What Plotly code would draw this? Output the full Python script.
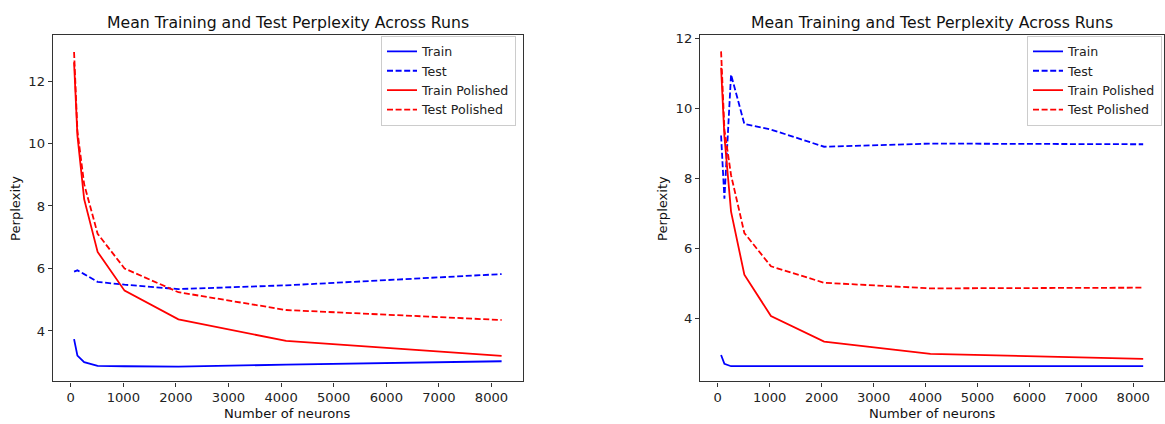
import plotly.graph_objects as go

# Data
neurons = [64, 128, 256, 512, 1024, 2048, 4096, 8192]

# Left panel
left_train = [3.74, 3.21, 3.00, 2.88, 2.87, 2.86, 2.92, 3.03]
left_test = [5.90, 5.94, 5.82, 5.57, 5.48, 5.34, 5.46, 5.82]
left_train_pol = [12.6, 10.25, 8.22, 6.53, 5.29, 4.37, 3.68, 3.20]
left_test_pol = [12.93, 10.4, 8.7, 7.11, 6.00, 5.24, 4.67, 4.35]

# Right panel
right_train = [2.97, 2.72, 2.65, 2.65, 2.66, 2.65, 2.65, 2.65]
right_test = [9.23, 7.43, 10.97, 9.56, 9.40, 8.91, 9.00, 8.98]
right_train_pol = [11.16, 9.2, 7.06, 5.26, 4.08, 3.35, 3.00, 2.86]
right_test_pol = [11.63, 9.4, 8.1, 6.45, 5.50, 5.03, 4.87, 4.89]

series_names = ["Train", "Test", "Train Polished", "Test Polished"]
title_text = "Mean Training and Test Perplexity Across Runs"
x_label = "Number of neurons"
y_label = "Perplexity"
x_ticks = [0, 1000, 2000, 3000, 4000, 5000, 6000, 7000, 8000]
y_ticks = [4, 6, 8, 10, 12]

W, H = 1165, 424
FONT = "DejaVu Sans, Liberation Sans, sans-serif"
DASH = "6px,2.6px"
TICK_SIZE = 13.1
LEGEND_SIZE = 12.6
TITLE_SIZE = 15.7

styles = [
    dict(color="#0000ff", dash="solid"),
    dict(color="#0000ff", dash=DASH),
    dict(color="#ff0000", dash="solid"),
    dict(color="#ff0000", dash=DASH),
]

fig = go.Figure()

panels = [
    ("x", "y", "legend", [left_train, left_test, left_train_pol, left_test_pol]),
    ("x2", "y2", "legend2", [right_train, right_test, right_train_pol, right_test_pol]),
]
for xa, ya, lg, data in panels:
    for name, vals, st in zip(series_names, data, styles):
        fig.add_trace(go.Scatter(
            x=neurons, y=vals, mode="lines", name=name,
            line=dict(color=st["color"], dash=st["dash"], width=1.8),
            xaxis=xa, yaxis=ya, legend=lg,
        ))

def px_x(p):
    return p / W

def px_y(p):
    return 1 - p / H

ydom = [px_y(381), px_y(31.7)]
left_dom = [px_x(52.7), px_x(522.7)]
right_dom = [px_x(700), px_x(1164)]

axis_common = dict(
    showline=True, mirror=True, linecolor="#333333", linewidth=1.2,
    ticks="outside", ticklen=4, tickwidth=1, tickcolor="#333333",
    showgrid=False, zeroline=False,
    tickfont=dict(family=FONT, size=TICK_SIZE, color="#222222"),
)

legend_common = dict(
    xanchor="right", yanchor="top",
    bgcolor="white", bordercolor="#cccccc", borderwidth=1,
    font=dict(family=FONT, size=LEGEND_SIZE, color="#222222"), tracegroupgap=0,
)

fig.update_layout(
    width=W, height=H,
    margin=dict(l=0, r=0, t=0, b=0),
    paper_bgcolor="white", plot_bgcolor="white",
    font=dict(family=FONT, color="#222222"),
    xaxis=dict(domain=left_dom, anchor="y", range=[-342, 8593], tickvals=x_ticks, **axis_common),
    yaxis=dict(domain=ydom, anchor="x", range=[2.385, 13.46], tickvals=y_ticks, **axis_common),
    xaxis2=dict(domain=right_dom, anchor="y2", range=[-342, 8593], tickvals=x_ticks, **axis_common),
    yaxis2=dict(domain=ydom, anchor="x2", range=[2.217, 12.085], tickvals=y_ticks, **axis_common),
    legend=dict(x=px_x(516), y=px_y(32), **legend_common),
    legend2=dict(x=px_x(1162), y=px_y(32), **legend_common),
)

annotations = []
for dom in (left_dom, right_dom):
    mid = (dom[0] + dom[1]) / 2
    annotations.append(dict(text=title_text, x=mid, y=px_y(18.5), xref="paper", yref="paper",
                            showarrow=False, xanchor="center", yanchor="middle",
                            font=dict(family=FONT, size=TITLE_SIZE, color="#111111")))
    annotations.append(dict(text=x_label, x=mid, y=px_y(413.5), xref="paper", yref="paper",
                            showarrow=False, xanchor="center", yanchor="middle",
                            font=dict(family=FONT, size=TICK_SIZE, color="#111111")))
for cx in (15.4, 662.5):
    annotations.append(dict(text=y_label, x=px_x(cx), y=px_y(206.5), xref="paper", yref="paper",
                            showarrow=False, textangle=-90, xanchor="center", yanchor="middle",
                            font=dict(family=FONT, size=TICK_SIZE, color="#111111")))
fig.update_layout(annotations=annotations)

fig.write_html("out.html",
               config={"displayModeBar": False},
               post_script="document.body.style.margin='0';document.body.style.padding='0';")
